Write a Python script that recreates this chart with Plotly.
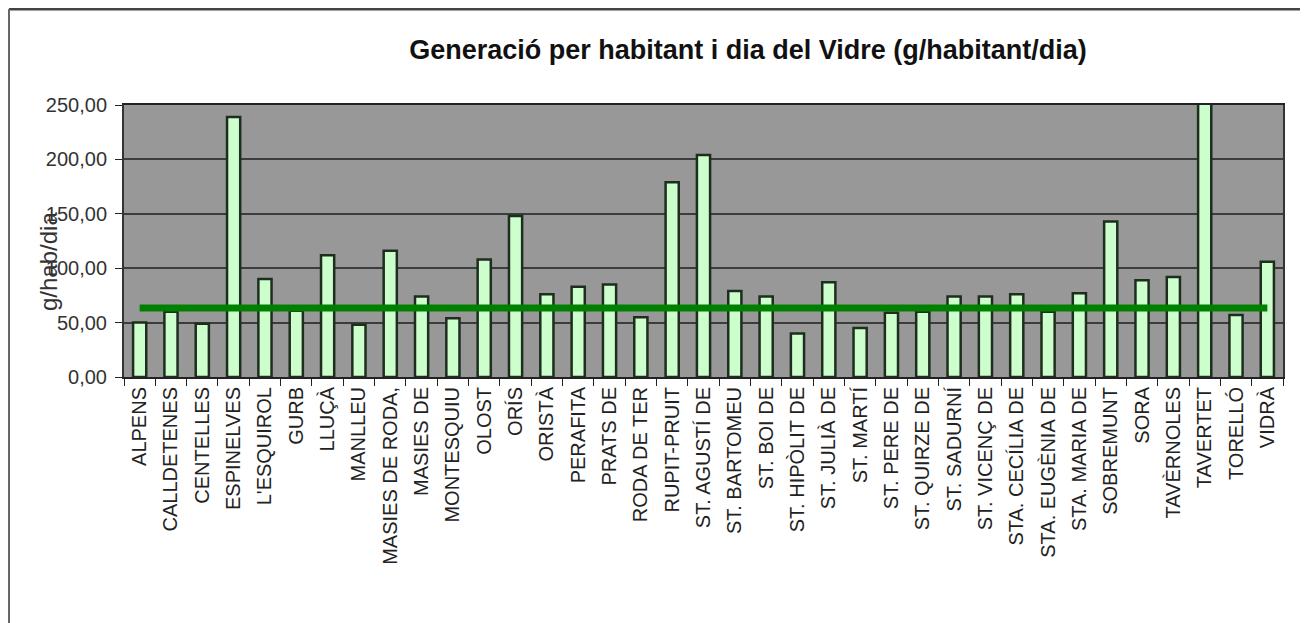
import plotly.graph_objects as go

categories = [
    "ALPENS", "CALLDETENES", "CENTELLES", "ESPINELVES", "L'ESQUIROL", "GURB",
    "LLUÇÀ", "MANLLEU", "MASIES DE RODA,", "MASIES DE", "MONTESQUIU", "OLOST",
    "ORÍS", "ORISTÀ", "PERAFITA", "PRATS DE", "RODA DE TER", "RUPIT-PRUIT",
    "ST. AGUSTÍ DE", "ST. BARTOMEU", "ST. BOI DE", "ST. HIPÒLIT DE", "ST. JULIÀ DE",
    "ST. MARTÍ", "ST. PERE DE", "ST. QUIRZE DE", "ST. SADURNÍ", "ST. VICENÇ DE",
    "STA. CECÍLIA DE", "STA. EUGÈNIA DE", "STA. MARIA DE", "SOBREMUNT", "SORA",
    "TAVÈRNOLES", "TAVERTET", "TORELLÓ", "VIDRÀ",
]
values = [
    50, 60, 49, 239, 90, 61,
    112, 48, 116, 74, 54, 108,
    148, 76, 83, 85, 55, 179,
    204, 79, 74, 40, 87,
    45, 59, 60, 74, 74,
    76, 60, 77, 143, 89,
    92, 290, 57, 106,
]
average_value = 63.5
y_ticks = [0, 50, 100, 150, 200, 250]

# page is rendered with an 8px body offset; figure edge = chart frame
W, H = 1300, 615
L, R, T, B = 116, 1275, 97, 369  # plot area in figure pixels
PW, PH = R - L, B - T

fig = go.Figure()
fig.add_trace(go.Bar(
    x=categories, y=values, width=0.42,
    marker=dict(color="#ccffcc", line=dict(color="#1e2e1e", width=2.5)),
    showlegend=False,
))
fig.add_trace(go.Scatter(
    x=[categories[0], categories[-1]], y=[average_value, average_value],
    mode="lines", line=dict(color="#008000", width=7), showlegend=False,
))

fig.update_layout(
    width=W, height=H,
    margin=dict(l=L, r=W - R, t=T, b=H - B),
    paper_bgcolor="white", plot_bgcolor="#989898",
    separators=",.",
    font=dict(family="Liberation Sans, Arial, sans-serif", color="#222"),
    title=dict(
        text="<b>Generació per habitant i dia del Vidre (g/habitant/dia)</b>",
        x=(740 - L) / PW, xref="paper", xanchor="center",
        y=1 - 42 / H, yref="container", yanchor="middle",
        font=dict(size=27, color="#111"),
    ),
)
fig.update_xaxes(
    type="category", tickangle=-90, tickfont=dict(size=20, color="#222"),
    ticks="outside", tickson="boundaries", ticklen=7, tickcolor="#222",
    showline=True, linecolor="#222", linewidth=2, mirror=True,
    showgrid=False,
)
fig.update_yaxes(
    range=[0, 250], tickvals=y_ticks, tickformat=".2f",
    tickfont=dict(size=20, color="#333"),
    ticks="outside", ticklen=7, tickcolor="#222", ticklabelstandoff=4,
    showline=True, linecolor="#333", linewidth=2, mirror=True,
    showgrid=True, gridcolor="#3c3c3c", gridwidth=2, zeroline=False,
)
fig.add_annotation(
    text="g/hab/dia", textangle=-90, xref="paper", yref="paper",
    x=(40 - L) / PW, y=(B - 254) / PH, xanchor="center", yanchor="middle",
    showarrow=False, font=dict(size=24, color="#333"),
)
# chart frame (left and top edges)
fig.add_shape(type="line", xref="paper", yref="paper",
              x0=(1 - L) / PW, x1=(1296 - L) / PW,
              y0=(B - 1) / PH, y1=(B - 1) / PH,
              line=dict(color="#444", width=3))
fig.add_shape(type="line", xref="paper", yref="paper",
              x0=(1 - L) / PW, x1=(1 - L) / PW,
              y0=(B - 1) / PH, y1=(B - H) / PH,
              line=dict(color="#666", width=2))

fig.write_html("out.html")
